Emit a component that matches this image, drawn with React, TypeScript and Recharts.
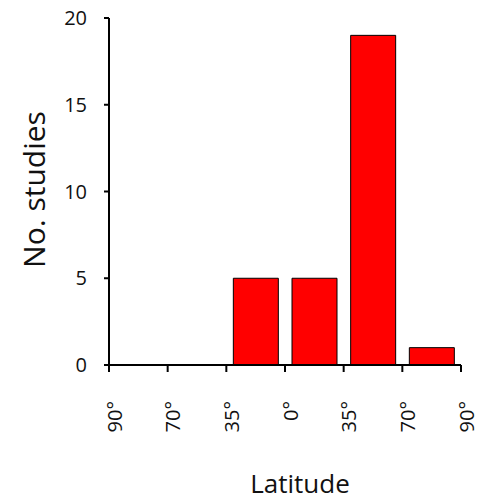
import React from 'react'
import { Bar, BarChart, XAxis, YAxis } from 'recharts'

// latitude bin edges (tick labels) and the studies counted in each bin
const latitudeEdges = ['90°', '70°', '35°', '0°', '35°', '70°', '90°']
const edgePositions = [0, 1, 2, 3, 4, 5, 6]
const binCentres = [0.5, 1.5, 2.5, 3.5, 4.5, 5.5]
const studyCounts = [0, 0, 5, 5, 19, 1]
const yTicks = [0, 5, 10, 15, 20]

const data = binCentres.map((x, i) => ({ x, count: studyCounts[i] }))

const FONT = '"Open Sans", "Noto Sans", sans-serif'

function EdgeTick(props: any) {
  const { x, y, payload } = props
  const cx = x + 5
  return (
    <text
      x={cx}
      y={y}
      transform={`rotate(-90, ${cx}, ${y})`}
      textAnchor="end"
      dominantBaseline="central"
      fontSize={20}
      fontFamily={FONT}
      fill="#111"
    >
      {latitudeEdges[payload.index] ?? latitudeEdges[payload.value]}
    </text>
  )
}

export default function App() {
  return (
    <div style={{ fontFamily: FONT, marginTop: -8 }}>
      <BarChart
        width={477}
        height={501}
        data={data}
        margin={{ top: 18, right: 24, left: 0, bottom: 0 }}
      >
        <XAxis
          dataKey="x"
          type="number"
          domain={[0, 6]}
          ticks={edgePositions}
          interval={0}
          height={136}
          tickSize={7}
          tickMargin={29}
          tick={<EdgeTick />}
          axisLine={{ stroke: '#000', strokeWidth: 2 }}
          tickLine={{ stroke: '#000', strokeWidth: 2 }}
          label={{
            content: ({ viewBox }: any) => (
              <text
                x={viewBox.x + viewBox.width / 2 + 15}
                y={viewBox.y + 128}
                textAnchor="middle"
                fontSize={26}
                fontFamily={FONT}
                fill="#111"
              >
                Latitude
              </text>
            ),
          }}
        />
        <YAxis
          width={101}
          domain={[0, 20]}
          ticks={yTicks}
          interval={0}
          tickSize={5}
          tickMargin={17}
          tick={{ fontSize: 20, fill: '#111', fontFamily: FONT }}
          axisLine={{ stroke: '#000', strokeWidth: 2 }}
          tickLine={{ stroke: '#000', strokeWidth: 2 }}
          label={{
            content: ({ viewBox }: any) => {
              const lx = viewBox.x + 25
              const ly = viewBox.y + viewBox.height / 2 - 2
              return (
                <text
                  x={lx}
                  y={ly}
                  transform={`rotate(-90, ${lx}, ${ly})`}
                  textAnchor="middle"
                  dominantBaseline="central"
                  fontSize={30}
                  fontFamily={FONT}
                  fill="#111"
                >
                  No. studies
                </text>
              )
            },
          }}
        />
        <Bar
          dataKey="count"
          fill="#ff0000"
          stroke="#000"
          strokeWidth={1}
          barSize={45}
          isAnimationActive={false}
        />
      </BarChart>
    </div>
  )
}
